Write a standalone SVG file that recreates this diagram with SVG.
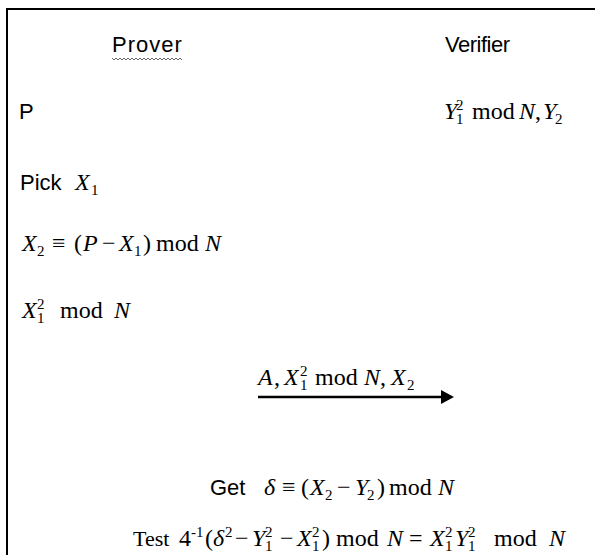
<svg xmlns="http://www.w3.org/2000/svg" width="595" height="555" viewBox="0 0 595 555">
<style>
.sans{font-family:"Liberation Sans",Arial,sans-serif;font-size:22px;fill:#000}
.m{font-family:"Liberation Serif","Times New Roman",serif;font-size:24px;fill:#000}
.i{font-style:italic}
.s{font-size:15px}
.frame{fill:none;stroke:#000;stroke-width:2}
.conn{stroke:#000;stroke-width:2.5;fill:none}
</style>
<defs>
<marker id="ah" markerWidth="13" markerHeight="14" refX="2" refY="7" orient="auto" markerUnits="userSpaceOnUse" viewBox="0 0 13 14">
<path d="M0,0 L13,7 L0,14 Z" fill="#000"/>
</marker>
</defs>
<rect width="595" height="555" fill="#fff"/>
<path class="frame" d="M7,555 V9 H595"/>

<g id="prover">
<text class="sans" x="112" y="52" letter-spacing="1">Prover</text>
<polyline points="112,58 114,60 116,58 118,60 120,58 122,60 124,58 126,60 128,58 130,60 132,58 134,60 136,58 138,60 140,58 142,60 144,58 146,60 148,58 150,60 152,58 154,60 156,58 158,60 160,58 162,60 164,58 166,60 168,58 170,60 172,58 174,60 176,58 178,60 180,58 182,60" fill="none" stroke="#666" stroke-width="1"/>
</g>
<g id="verifier">
<text class="sans" x="445" y="52" letter-spacing="-0.5">Verifier</text>
</g>

<g id="prover-p"><text class="sans" x="19" y="119">P</text></g>
<g id="verifier-y"><text class="m">
<tspan class="i" x="444" y="119">Y</tspan><tspan class="s" x="456" y="124">1</tspan><tspan class="s" x="456" y="110">2</tspan><tspan x="472" y="119">mod</tspan><tspan class="i" x="519" y="119">N</tspan><tspan x="535" y="119">,</tspan><tspan class="i" x="543" y="119">Y</tspan><tspan class="s" x="555" y="124">2</tspan>
</text></g>

<g id="pick"><text class="sans" x="20" y="190">Pick</text><text class="m"><tspan class="i" x="75" y="190">X</tspan><tspan class="s" x="91" y="195">1</tspan></text></g>

<g id="x2"><text class="m">
<tspan class="i" x="22" y="251">X</tspan><tspan class="s" x="37" y="256">2</tspan><tspan x="52" y="251">≡</tspan><tspan x="74" y="251">(</tspan><tspan class="i" x="83" y="251">P</tspan><tspan x="102" y="251">−</tspan><tspan class="i" x="119" y="251">X</tspan><tspan class="s" x="134" y="256">1</tspan><tspan x="143" y="251">)</tspan><tspan x="156" y="251">mod</tspan><tspan class="i" x="205" y="251">N</tspan>
</text></g>

<g id="x1sq"><text class="m">
<tspan class="i" x="22" y="318">X</tspan><tspan class="s" x="37" y="323">1</tspan><tspan class="s" x="37" y="309">2</tspan><tspan x="60" y="318">mod</tspan><tspan class="i" x="114" y="318">N</tspan>
</text></g>

<g id="connectors">
<line class="conn" x1="258" y1="397" x2="443" y2="397" marker-end="url(#ah)"/>
<text class="m">
<tspan class="i" x="258" y="385">A</tspan><tspan x="274" y="385">,</tspan><tspan class="i" x="284" y="385">X</tspan><tspan class="s" x="300" y="390">1</tspan><tspan class="s" x="300" y="376">2</tspan><tspan x="315" y="385">mod</tspan><tspan class="i" x="364" y="385">N</tspan><tspan x="380" y="385">,</tspan><tspan class="i" x="391" y="385">X</tspan><tspan class="s" x="407" y="390">2</tspan>
</text>
</g>

<g id="get"><text class="sans" x="210" y="495">Get</text><text class="m">
<tspan class="i" x="264" y="495">δ</tspan><tspan x="282" y="495">≡</tspan><tspan x="301" y="495">(</tspan><tspan class="i" x="310" y="495">X</tspan><tspan class="s" x="325" y="500">2</tspan><tspan x="337" y="495">−</tspan><tspan class="i" x="355" y="495">Y</tspan><tspan class="s" x="367" y="500">2</tspan><tspan x="377" y="495">)</tspan><tspan x="389" y="495">mod</tspan><tspan class="i" x="438" y="495">N</tspan>
</text></g>

<g id="test"><text class="m">
<tspan x="133" y="546" font-size="22">Test</tspan><tspan x="179" y="546">4</tspan><tspan class="s" x="191" y="537">-1</tspan><tspan x="205" y="546">(</tspan><tspan class="i" x="213" y="546">δ</tspan><tspan class="s" x="225" y="537">2</tspan><tspan x="235" y="546">−</tspan><tspan class="i" x="252" y="546">Y</tspan><tspan class="s" x="265" y="551">1</tspan><tspan class="s" x="265" y="537">2</tspan><tspan x="280" y="546">−</tspan><tspan class="i" x="297" y="546">X</tspan><tspan class="s" x="312" y="551">1</tspan><tspan class="s" x="312" y="537">2</tspan><tspan x="322" y="546">)</tspan><tspan x="336" y="546">mod</tspan><tspan class="i" x="387" y="546">N</tspan><tspan x="409" y="546">=</tspan><tspan class="i" x="430" y="546">X</tspan><tspan class="s" x="445" y="551">1</tspan><tspan class="s" x="445" y="537">2</tspan><tspan class="i" x="455" y="546">Y</tspan><tspan class="s" x="468" y="551">1</tspan><tspan class="s" x="468" y="537">2</tspan><tspan x="494" y="546">mod</tspan><tspan class="i" x="549" y="546">N</tspan>
</text></g>
</svg>
